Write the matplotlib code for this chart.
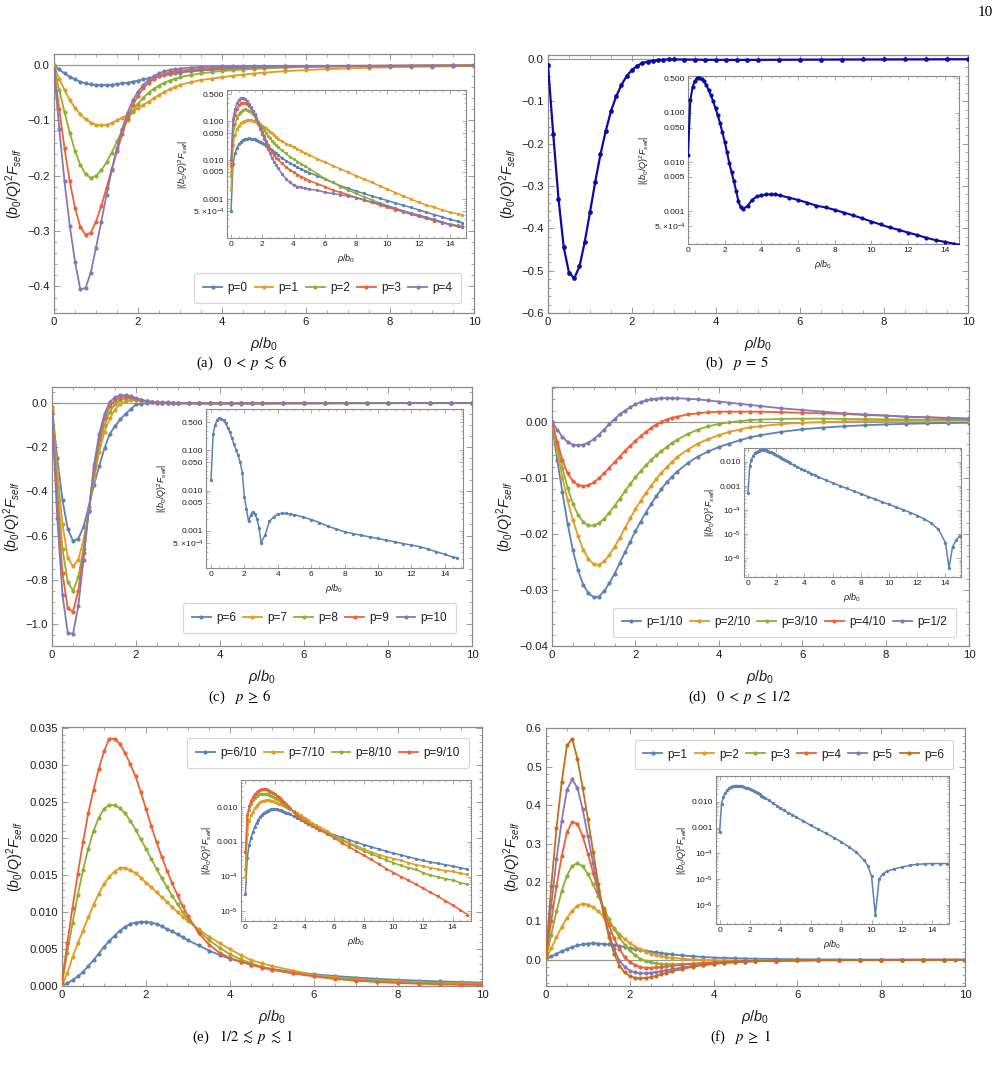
import numpy as np
import matplotlib
matplotlib.use('Agg')
import matplotlib.pyplot as plt
from matplotlib.ticker import (MultipleLocator, FixedLocator, FuncFormatter,
                               LogLocator, NullFormatter, FixedFormatter)

plt.rcParams['font.family'] = ['Liberation Sans', 'DejaVu Sans']
plt.rcParams['mathtext.fontset'] = 'custom'
plt.rcParams['mathtext.rm'] = 'Liberation Sans'
plt.rcParams['mathtext.it'] = 'Liberation Sans:italic'
plt.rcParams['mathtext.bf'] = 'Liberation Sans:bold'
plt.rcParams['mathtext.fallback'] = 'stixsans'

# ---------------------------------------------------------------- sampling grids (rho/b0)
RHO_HEAD = [0.0, 0.125, 0.25, 0.375, 0.5, 0.625, 0.75, 0.875, 1.0, 1.125, 1.25, 1.375,
            1.5, 1.625, 1.75, 1.875, 2.0, 2.125, 2.25, 2.375, 2.5, 2.625, 2.75, 2.875, 3.0]
RHO_MID = [3.25, 3.5, 3.75, 4.0, 4.25, 4.5, 4.75, 5.0, 5.5, 6.0, 6.5, 7.0, 7.5, 8.0,
           8.5, 9.0, 9.5, 10.0]
RHO_TAIL_A = [10.5, 11.0, 11.5, 12.0, 12.5, 13.0, 13.5, 14.0, 14.5, 14.75]
RHO_TAIL_D = [10.5, 11.0, 11.5, 12.0, 12.5, 13.0, 13.5, 14.0, 14.25, 14.5, 14.75, 15.0]
RHO_TAIL_E = [10.5, 11.0, 11.5, 12.0, 12.5, 13.0, 13.5, 14.0, 14.5, 15.0]
RHO_TAIL_F1 = [3.25, 3.5, 3.75, 4.0, 4.25, 4.5, 4.75, 5.0, 5.5, 6.0, 6.5, 7.0, 7.5, 8.0,
               8.5, 9.0, 9.5, 9.75, 10.0, 10.25, 10.5, 10.75, 11.0, 11.5, 12.0, 12.5,
               13.0, 13.5, 14.0, 14.5, 15.0]

RHO_SHORT = RHO_HEAD + RHO_MID
RHO_LONG_A = RHO_HEAD + RHO_MID + RHO_TAIL_A
RHO_LONG_D = RHO_HEAD + RHO_MID + RHO_TAIL_D
RHO_LONG_E = RHO_HEAD + RHO_MID + RHO_TAIL_E
RHO_LONG_F1 = RHO_HEAD + RHO_TAIL_F1

# ---------------------------------------------------------------- panel (a)  p = 0..4
A_LABELS = ['p=0', 'p=1', 'p=2', 'p=3', 'p=4']
A_P0 = [-0.0005, -0.008, -0.015, -0.021, -0.026, -0.030, -0.033, -0.035, -0.036, -0.0365,
        -0.036, -0.0355, -0.0345, -0.033, -0.032, -0.030, -0.028, -0.026, -0.024, -0.022,
        -0.020, -0.018, -0.0165, -0.015, -0.0135,
        -0.0115, -0.0098, -0.0085, -0.0075, -0.0066, -0.0059, -0.0053, -0.0048, -0.0040,
        -0.0033, -0.0027, -0.0022, -0.0019, -0.0016, -0.0014, -0.0012, -0.00105, -0.00092,
        -0.0008, -0.0007, -0.00061, -0.00053, -0.00046, -0.0004, -0.00035, -0.0003,
        -0.00027, -0.00025]
A_P1 = [-0.0017, -0.025, -0.045, -0.063, -0.077, -0.089, -0.098, -0.104, -0.108, -0.109,
        -0.108, -0.105, -0.100, -0.095, -0.090, -0.084, -0.078, -0.072, -0.066, -0.060,
        -0.054, -0.049, -0.044, -0.040, -0.036,
        -0.031, -0.027, -0.0245, -0.022, -0.0195, -0.0172, -0.0153, -0.0137, -0.0110,
        -0.0090, -0.0073, -0.0060, -0.0049, -0.0040, -0.0033, -0.0027, -0.0022, -0.0018,
        -0.00148, -0.00122, -0.0010, -0.00083, -0.0007, -0.00062, -0.00053, -0.00046,
        -0.00042, -0.0004]
A_P2 = [-0.004, -0.045, -0.085, -0.122, -0.155, -0.180, -0.197, -0.204, -0.200, -0.190,
        -0.176, -0.158, -0.138, -0.118, -0.099, -0.083, -0.070, -0.059, -0.050, -0.043,
        -0.037, -0.032, -0.028, -0.025, -0.022,
        -0.018, -0.015, -0.0125, -0.0108, -0.0093, -0.0081, -0.0070, -0.0061, -0.0045,
        -0.0034, -0.0027, -0.0021, -0.0017, -0.0014, -0.00115, -0.00096, -0.0008, -0.00068,
        -0.00058, -0.0005, -0.00043, -0.00037, -0.00032, -0.00028, -0.00025, -0.00023,
        -0.00021, -0.0002]
A_P3 = [-0.007, -0.080, -0.150, -0.210, -0.258, -0.292, -0.307, -0.303, -0.283, -0.255,
        -0.222, -0.188, -0.156, -0.125, -0.095, -0.073, -0.055, -0.042, -0.032, -0.025,
        -0.020, -0.016, -0.0135, -0.0118, -0.0105,
        -0.0083, -0.0068, -0.0057, -0.0049, -0.0043, -0.0038, -0.0034, -0.0030, -0.0025,
        -0.0021, -0.0017, -0.0015, -0.0013, -0.0011, -0.00095, -0.00082, -0.00071, -0.00062,
        -0.00054, -0.00047, -0.00041, -0.00036, -0.00032, -0.00028, -0.00025, -0.00022,
        -0.0002, -0.00019]
A_P4 = [-0.010, -0.115, -0.210, -0.290, -0.355, -0.405, -0.403, -0.375, -0.330, -0.283,
        -0.235, -0.190, -0.150, -0.115, -0.086, -0.064, -0.048, -0.036, -0.027, -0.020,
        -0.015, -0.0115, -0.0092, -0.0076, -0.0064,
        -0.0045, -0.0034, -0.0027, -0.0023, -0.0021, -0.0020, -0.0019, -0.0018, -0.0017,
        -0.0015, -0.0014, -0.0013, -0.0012, -0.0011, -0.00095, -0.00085, -0.00075, -0.00066,
        -0.00058, -0.0005, -0.00044, -0.00039, -0.00034, -0.0003, -0.00026, -0.00022,
        -0.0002, -0.00019]

# ---------------------------------------------------------------- panel (b)  p = 5
B_P5 = [-0.014, -0.178, -0.33, -0.445, -0.505, -0.518, -0.49, -0.432, -0.362, -0.29,
        -0.225, -0.17, -0.123, -0.088, -0.061, -0.040, -0.026, -0.016, -0.0095, -0.0062,
        -0.0041, -0.0026, -0.0016, -0.0012, -0.0011,
        -0.0013, -0.0017, -0.0020, -0.0021, -0.0022, -0.0022, -0.0022, -0.0021, -0.0019,
        -0.0017, -0.0015, -0.0013, -0.0012, -0.00107, -0.00094, -0.00083, -0.00072, -0.00062,
        -0.00054, -0.00047, -0.00042, -0.00037, -0.00033, -0.00029, -0.00026, -0.00024,
        -0.00022, -0.00021]

# ---------------------------------------------------------------- panel (c)  p = 6..10
C_LABELS = ['p=6', 'p=7', 'p=8', 'p=9', 'p=10']
C_P6 = [-0.018, -0.25, -0.44, -0.57, -0.625, -0.615, -0.56, -0.47, -0.37, -0.285,
        -0.205, -0.14, -0.105, -0.075, -0.05, -0.028, -0.0068, -0.0035, -0.0017, 0.0024,
        0.003, 0.0026, 0.002, 0.0012, -0.0005,
        -0.0008, -0.0017, -0.0022, -0.0026, -0.0027, -0.0027, -0.0026, -0.0025, -0.0022,
        -0.0019, -0.0016, -0.0013, -0.0011, -0.00094, -0.00085, -0.00077, -0.0007, -0.00064,
        -0.00058, -0.00053, -0.00048, -0.00044, -0.0004, -0.00035, -0.0003, -0.00026,
        -0.00022, -0.00021]
C_P7 = [-0.025, -0.31, -0.55, -0.70, -0.74, -0.71, -0.62, -0.49, -0.34, -0.22, -0.13,
        -0.07, -0.03, -0.005, 0.007, 0.011, 0.012, 0.010, 0.007, 0.004, 0.002, 0.0, -0.001,
        -0.0015, -0.0018,
        -0.002, -0.0021, -0.0022, -0.0022, -0.0022, -0.0021, -0.002, -0.0019, -0.0017,
        -0.0015, -0.0013, -0.0011, -0.001, -0.0009, -0.0008, -0.0007, -0.00065, -0.0006]
C_P8 = [-0.03, -0.38, -0.66, -0.81, -0.85, -0.79, -0.66, -0.49, -0.32, -0.19, -0.10,
        -0.04, -0.005, 0.012, 0.019, 0.020, 0.016, 0.012, 0.008, 0.005, 0.002, 0.0, -0.001,
        -0.0015, -0.0018,
        -0.002, -0.002, -0.0021, -0.0021, -0.0021, -0.002, -0.0019, -0.0018, -0.0016,
        -0.0014, -0.0012, -0.0011, -0.00095, -0.00085, -0.00075, -0.00067, -0.0006, -0.00055]
C_P9 = [-0.04, -0.45, -0.77, -0.93, -0.945, -0.85, -0.68, -0.49, -0.30, -0.165, -0.07,
        -0.015, 0.012, 0.024, 0.027, 0.025, 0.019, 0.013, 0.008, 0.004, 0.0015, 0.0, -0.001,
        -0.0015, -0.0017,
        -0.0019, -0.002, -0.002, -0.002, -0.002, -0.0019, -0.0018, -0.0017, -0.0015,
        -0.0013, -0.0012, -0.001, -0.0009, -0.0008, -0.0007, -0.00062, -0.00056, -0.0005]
C_P10 = [-0.05, -0.52, -0.87, -1.04, -1.045, -0.92, -0.71, -0.49, -0.28, -0.14, -0.05,
         0.005, 0.025, 0.034, 0.035, 0.030, 0.022, 0.014, 0.008, 0.004, 0.0015, 0.0, -0.001,
         -0.0015, -0.0018,
         -0.0019, -0.0019, -0.0019, -0.0019, -0.0018, -0.0018, -0.0017, -0.0016, -0.0014,
         -0.0012, -0.0011, -0.00095, -0.00085, -0.00075, -0.00065, -0.00058, -0.00052,
         -0.00047]

# ---------------------------------------------------------------- panel (d)  p = 1/10..1/2
D_LABELS = ['p=1/10', 'p=2/10', 'p=3/10', 'p=4/10', 'p=1/2']
D_P1 = [-0.0005, -0.0068, -0.0126, -0.0182, -0.0229, -0.0265, -0.0291, -0.0306, -0.0313,
        -0.0312, -0.0302, -0.0288, -0.0271, -0.0252, -0.0233, -0.0214, -0.0195, -0.0178,
        -0.0162, -0.0147, -0.0133, -0.0120, -0.0108, -0.0098, -0.0089,
        -0.0074, -0.0062, -0.0053, -0.0045, -0.0039, -0.0033, -0.0028, -0.0024, -0.0018,
        -0.00135, -0.00104, -0.0008, -0.00062, -0.00048, -0.00037, -0.00029, -0.00022,
        -0.000175,
        -0.000135, -0.000105, -8e-5, -6e-5, -4.3e-5, -2.9e-5, -1.6e-5, -4.5e-6, -4e-7,
        3e-6, 5.7e-6, 8.5e-6]
D_P2 = [0.0, -0.0054, -0.0100, -0.0140, -0.0175, -0.0204, -0.0228, -0.0245, -0.0254,
        -0.0255, -0.0249, -0.0238, -0.0223, -0.0207, -0.0190, -0.0172, -0.0156, -0.0141,
        -0.0127, -0.0114, -0.0102, -0.0091, -0.0081, -0.0072, -0.0063,
        -0.0050, -0.0039, -0.0031, -0.0024, -0.0018, -0.0014, -0.0010, -0.0008, -0.0004,
        -0.0002, -0.00005, 0.00005, 0.0001, 0.00015, 0.00017, 0.00018, 0.00018, 0.00018]
D_P3 = [0.0, -0.0042, -0.0083, -0.0118, -0.0146, -0.0166, -0.0179, -0.0185, -0.0185,
        -0.0181, -0.0173, -0.0162, -0.0150, -0.0137, -0.0124, -0.0111, -0.0099, -0.0088,
        -0.0078, -0.0068, -0.0060, -0.0052, -0.0045, -0.0038, -0.0032,
        -0.0022, -0.0014, -0.0008, -0.0004, -0.0001, 0.0001, 0.0003, 0.0004, 0.0005,
        0.00055, 0.00055, 0.0005, 0.00047, 0.00043, 0.0004, 0.00036, 0.00033, 0.0003]
D_P4 = [0.0, -0.0036, -0.0068, -0.0092, -0.0106, -0.0113, -0.0115, -0.0113, -0.0108,
        -0.0101, -0.0092, -0.0082, -0.0072, -0.0062, -0.0052, -0.0043, -0.0034, -0.0026,
        -0.0018, -0.0011, -0.0005, 0.0, 0.0004, 0.0007, 0.0009,
        0.0013, 0.0015, 0.0017, 0.0018, 0.0018, 0.0018, 0.0018, 0.0018, 0.0017, 0.0016,
        0.0015, 0.0014, 0.0012, 0.0011, 0.0009, 0.0008, 0.0006, 0.0005]
D_P5 = [0.0, -0.0014, -0.0027, -0.0036, -0.0041, -0.0042, -0.0041, -0.0037, -0.0031,
        -0.0023, -0.0014, -0.0004, 0.0005, 0.0013, 0.0020, 0.0026, 0.0031, 0.0035, 0.0038,
        0.0040, 0.0041, 0.0042, 0.0042, 0.0042, 0.0042,
        0.0041, 0.0040, 0.0038, 0.0036, 0.0034, 0.0032, 0.0030, 0.0028, 0.0024, 0.0021,
        0.0018, 0.0015, 0.0013, 0.0011, 0.0009, 0.0008, 0.0007, 0.0006]

# ---------------------------------------------------------------- panel (e)  p = 6/10..9/10
E_LABELS = ['p=6/10', 'p=7/10', 'p=8/10', 'p=9/10']
E_P6 = [3.2e-5, 0.00035, 0.0008, 0.0013, 0.0019, 0.0027, 0.0035, 0.0044, 0.0053, 0.0061,
        0.0068, 0.0075, 0.0080, 0.0084, 0.0086, 0.0087, 0.0087, 0.0086, 0.0084, 0.0081,
        0.0077, 0.0074, 0.0070, 0.0066, 0.0062,
        0.0055, 0.0048, 0.0042, 0.0037, 0.0033, 0.0029, 0.0026, 0.0023, 0.0019, 0.0016,
        0.00135, 0.00115, 0.00097, 0.00083, 0.00072, 0.00062, 0.00054, 0.00047,
        0.00042, 0.00037, 0.00033, 0.00029, 0.00026, 0.00024, 0.00022, 0.0002, 0.00018,
        0.00016]
E_P7 = [9.8e-5, 0.0017, 0.0039, 0.0058, 0.0075, 0.0093, 0.0110, 0.0125, 0.0138, 0.0148,
        0.0155, 0.0160, 0.0160, 0.0157, 0.0153, 0.0147, 0.0140, 0.0134, 0.0127, 0.0120,
        0.0114, 0.0107, 0.0100, 0.0094, 0.0088,
        0.0077, 0.0067, 0.0058, 0.0050, 0.0042, 0.0035, 0.0031, 0.0027, 0.0021, 0.0015,
        0.0012, 0.00095, 0.00077, 0.00062, 0.00051, 0.00043, 0.00037, 0.00033,
        0.00029, 0.00025, 0.00022, 0.0002, 0.00018, 0.00016, 0.000148, 0.00014, 0.000125,
        0.000115]
E_P8 = [0.00017, 0.0045, 0.0085, 0.0123, 0.0157, 0.0186, 0.0210, 0.0228, 0.0240, 0.0245,
        0.0245, 0.0241, 0.0234, 0.0224, 0.0212, 0.0199, 0.0186, 0.0172, 0.0159, 0.0146,
        0.0134, 0.0122, 0.0111, 0.0100, 0.0091,
        0.0075, 0.0062, 0.0052, 0.0043, 0.0036, 0.0031, 0.0026, 0.0022, 0.0018, 0.0014,
        0.0011, 0.00088, 0.00069, 0.00055, 0.00045, 0.00037, 0.0003, 0.00025,
        0.00021, 0.00018, 0.00016, 0.00013, 0.00011, 9.8e-5, 8.6e-5, 7.9e-5, 6.7e-5, 5.9e-5]
E_P9 = [0.0005, 0.0058, 0.0106, 0.0152, 0.0195, 0.0234, 0.0266, 0.0294, 0.0318, 0.0335,
        0.0335, 0.0328, 0.0316, 0.0301, 0.0284, 0.0263, 0.0240, 0.0217, 0.0195, 0.0175,
        0.0156, 0.0139, 0.0123, 0.0108, 0.0095,
        0.0072, 0.0056, 0.0045, 0.0038, 0.0033, 0.0029, 0.0025, 0.0022, 0.0017, 0.0013,
        0.00095, 0.00072, 0.00054, 0.00041, 0.00031, 0.00023, 0.00017, 0.00013,
        0.0001, 7.8e-5, 6e-5, 4.6e-5, 3.5e-5, 2.7e-5, 2e-5, 1.5e-5, 1.1e-5, 8e-6]

# ---------------------------------------------------------------- panel (f)  p = 1..6
F_LABELS = ['p=1', 'p=2', 'p=3', 'p=4', 'p=5', 'p=6']
F_P1 = [0.0007, 0.0085, 0.0155, 0.022, 0.028, 0.033, 0.037, 0.040, 0.042, 0.0425, 0.042,
        0.041, 0.0395, 0.0375, 0.0353, 0.033, 0.0305, 0.028, 0.0257, 0.0234, 0.0212, 0.0192,
        0.0173, 0.0156, 0.0140,
        0.0112, 0.0090, 0.0071, 0.0056, 0.0046, 0.0038, 0.0032, 0.0026, 0.0018, 0.0012,
        0.00085, 0.0006, 0.00041, 0.00028, 0.00018, 0.00011, 5.4e-5, 3.3e-5, 1.3e-5, -4e-7,
        -1e-5, -1.6e-5, -2e-5, -2.5e-5, -2.9e-5, -3.4e-5, -3.7e-5, -3.9e-5, -4e-5, -4e-5,
        -4e-5]
F_P2 = [0.001, 0.030, 0.058, 0.085, 0.108, 0.127, 0.140, 0.145, 0.143, 0.136, 0.125,
        0.111, 0.096, 0.081, 0.067, 0.054, 0.043, 0.034, 0.027, 0.021, 0.016, 0.012, 0.009,
        0.0068, 0.005,
        0.0025, 0.0008, -0.0004, -0.0012, -0.0017, -0.002, -0.0022, -0.0022, -0.0021,
        -0.0019, -0.0016, -0.0014, -0.0012, -0.001, -0.0008, -0.0007, -0.0006, -0.0005]
F_P3 = [0.003, 0.065, 0.125, 0.178, 0.218, 0.243, 0.250, 0.242, 0.222, 0.195, 0.165,
        0.135, 0.106, 0.080, 0.058, 0.039, 0.024, 0.012, 0.003, -0.003, -0.007, -0.0095,
        -0.011, -0.0115, -0.0115,
        -0.011, -0.0098, -0.0085, -0.0072, -0.006, -0.005, -0.0042, -0.0035, -0.0025,
        -0.0018, -0.0013, -0.001, -0.0008, -0.0006, -0.0005, -0.0004, -0.0003, -0.0003]
F_P4 = [0.006, 0.100, 0.190, 0.268, 0.330, 0.357, 0.352, 0.320, 0.275, 0.225, 0.175,
        0.130, 0.090, 0.055, 0.028, 0.007, -0.006, -0.014, -0.019, -0.021, -0.021, -0.020,
        -0.019, -0.0175, -0.016,
        -0.013, -0.0105, -0.0085, -0.0068, -0.0055, -0.0044, -0.0036, -0.003, -0.002,
        -0.0014, -0.001, -0.0007, -0.0005, -0.0004, -0.0003, -0.00025, -0.0002, -0.00015]
F_P5 = [0.010, 0.140, 0.260, 0.360, 0.440, 0.467, 0.445, 0.390, 0.320, 0.250, 0.180,
        0.120, 0.068, 0.027, -0.002, -0.018, -0.028, -0.033, -0.035, -0.035, -0.034, -0.032,
        -0.030, -0.027, -0.025,
        -0.020, -0.016, -0.0125, -0.0098, -0.0077, -0.006, -0.0047, -0.0037, -0.0023,
        -0.0015, -0.001, -0.0007, -0.0005, -0.0004, -0.0003, -0.0002, -0.00015, -0.0001]
F_P6 = [0.015, 0.190, 0.340, 0.460, 0.555, 0.572, 0.520, 0.445, 0.365, 0.280, 0.195,
        0.120, 0.060, 0.016, -0.015, -0.033, -0.042, -0.047, -0.048, -0.047, -0.045, -0.042,
        -0.038, -0.034, -0.030,
        -0.024, -0.018, -0.014, -0.011, -0.0085, -0.0066, -0.005, -0.0039, -0.0024,
        -0.0015, -0.001, -0.0007, -0.0005, -0.0003, -0.0002, -0.00015, -0.0001, -0.0001]

# ---------------------------------------------------------------- styling
COLORS = ['#5E81B5', '#E19C24', '#8FB032', '#EB6235', '#8778B3', '#C56E1A']
DARK_BLUE = '#0B0BA6'
FRAME = '#8a8a8a'
TXT = '#1e1e1e'
FIG_W, FIG_H = 1004, 1080

fig = plt.figure(figsize=(FIG_W / 100, FIG_H / 100), dpi=100)


def px_axes(x0, y0, x1, y1, **kw):
    return fig.add_axes([x0 / FIG_W, 1 - y1 / FIG_H, (x1 - x0) / FIG_W, (y1 - y0) / FIG_H], **kw)


def make_fmt(nd):
    def f(v, pos):
        s = f'{v:.{nd}f}'
        if float(s) == 0:
            s = f'{0:.{nd}f}'
        return s.replace('-', '\u2212')
    return FuncFormatter(f)


def style_main(ax, ylim, ymaj, ymin, nd):
    ax.set_xlim(0, 10)
    ax.set_ylim(*ylim)
    ax.xaxis.set_major_locator(MultipleLocator(2))
    ax.xaxis.set_minor_locator(MultipleLocator(0.5))
    ax.yaxis.set_major_locator(MultipleLocator(ymaj))
    ax.yaxis.set_minor_locator(MultipleLocator(ymin))
    ax.yaxis.set_major_formatter(make_fmt(nd))
    ax.tick_params(which='both', direction='in', top=True, right=True, colors=FRAME,
                   labelcolor=TXT, labelsize=8.2, pad=3)
    ax.tick_params(which='major', length=4, width=0.6)
    ax.tick_params(which='minor', length=2, width=0.5)
    for s in ax.spines.values():
        s.set_color(FRAME)
        s.set_linewidth(0.9)
    ax.set_xlabel(r'$\rho/b_0$', fontsize=10.5, color=TXT, labelpad=6)
    ax.set_ylabel(r'$(b_0/Q)^2F_{self}$', fontsize=10.2, color=TXT, labelpad=2)


LOG_TICKS_A = [5e-4, 1e-3, 5e-3, 1e-2, 5e-2, 0.1, 0.5]
LOG_LABELS_A = [r'$5.\!\times\!10^{-4}$', '0.001', '0.005', '0.010', '0.050', '0.100', '0.500']
LOG_TICKS_D = [1e-6, 1e-5, 1e-4, 1e-3, 1e-2]
LOG_LABELS_D = [r'$10^{-6}$', r'$10^{-5}$', r'$10^{-4}$', '0.001', '0.010']


def style_inset(ax, xlim, ylim, ticks, labels):
    ax.set_yscale('log')
    ax.set_xlim(*xlim)
    ax.set_ylim(*ylim)
    ax.set_facecolor('white')
    ax.xaxis.set_major_locator(MultipleLocator(2))
    ax.xaxis.set_minor_locator(MultipleLocator(0.5))
    ax.yaxis.set_major_locator(FixedLocator(ticks))
    ax.yaxis.set_major_formatter(FixedFormatter(labels))
    ax.yaxis.set_minor_locator(LogLocator(base=10, subs=np.arange(2, 10) * 1.0, numticks=60))
    ax.yaxis.set_minor_formatter(NullFormatter())
    ax.tick_params(which='both', direction='in', top=True, right=True, colors=FRAME,
                   labelcolor=TXT, labelsize=6, pad=2)
    ax.tick_params(which='major', length=3, width=0.5)
    ax.tick_params(which='minor', length=1.5, width=0.4)
    for s in ax.spines.values():
        s.set_color(FRAME)
        s.set_linewidth(0.8)
    ax.set_xlabel(r'$\rho/b_0$', fontsize=6.5, color=TXT, labelpad=3)
    ax.set_ylabel(r'$|(b_0/Q)^2F_{self}|$', fontsize=6.5, color=TXT, labelpad=2)


def draw(ax, x, y, color, label=None, ms=3.0, lw=1.3):
    ax.plot(x, y, '-o', color=color, ms=ms, lw=lw, mew=0, label=label, zorder=3)


def draw_abs(ax, x, y, color, ms=2.4, lw=1.1):
    ax.plot(x, np.abs(np.asarray(y)), '-o', color=color, ms=ms, lw=lw, mew=0, zorder=3)


def add_legend(ax, ncol, cx, cy, fs=8.5):
    leg = ax.legend(loc='center', bbox_to_anchor=(cx, cy), ncol=ncol, fontsize=fs,
                    frameon=True, fancybox=True, handlelength=1.6, columnspacing=0.6,
                    handletextpad=0.45, borderpad=0.75, framealpha=1.0)
    leg.get_frame().set_edgecolor('#d4d4d4')
    leg.get_frame().set_linewidth(0.8)
    for t in leg.get_texts():
        t.set_color(TXT)
    leg.set_zorder(10)
    return leg


def zero_line(ax):
    ax.axhline(0, color='#9a9a9a', lw=0.9, zorder=1)


# ---------------------------------------------------------------- (a)
axA = px_axes(54, 54, 474, 313)
zero_line(axA)
for ys, c, lab in zip([A_P0, A_P1, A_P2, A_P3, A_P4], COLORS, A_LABELS):
    draw(axA, RHO_LONG_A, ys, c, lab)
style_main(axA, (-0.448, 0.02), 0.1, 0.02, 1)
add_legend(axA, 5, 0.652, 0.0965)
insA = px_axes(227, 90, 466, 238, zorder=5)
for ys, c in zip([A_P0, A_P1, A_P2, A_P3, A_P4], COLORS):
    draw_abs(insA, RHO_LONG_A, ys, c)
style_inset(insA, (-0.26, 15.03), (1.0e-4, 0.645), LOG_TICKS_A, LOG_LABELS_A)

# ---------------------------------------------------------------- (b)
axB = px_axes(548, 55, 968, 313)
zero_line(axB)
draw(axB, RHO_LONG_A, B_P5, DARK_BLUE, ms=3.4, lw=1.6)
style_main(axB, (-0.6, 0.0094), 0.1, 0.02, 1)
insB = px_axes(688, 76, 959, 244, zorder=5)
draw_abs(insB, RHO_LONG_A, B_P5, DARK_BLUE, ms=3.0, lw=1.5)
style_inset(insB, (0, 14.78), (2.17e-4, 0.557), LOG_TICKS_A, LOG_LABELS_A)

# ---------------------------------------------------------------- (c)
axC = px_axes(52, 387, 472, 646)
zero_line(axC)
draw(axC, RHO_LONG_A, C_P6, COLORS[0], C_LABELS[0])
for ys, c, lab in zip([C_P7, C_P8, C_P9, C_P10], COLORS[1:], C_LABELS[1:]):
    draw(axC, RHO_SHORT, ys, c, lab)
style_main(axC, (-1.10, 0.072), 0.2, 0.05, 1)
add_legend(axC, 5, 0.637, 0.107)
insC = px_axes(206, 409, 463, 568, zorder=5)
draw_abs(insC, RHO_LONG_A, C_P6, COLORS[0])
style_inset(insC, (-0.3, 15.1), (1.18e-4, 1.07), LOG_TICKS_A, LOG_LABELS_A)

# ---------------------------------------------------------------- (d)
axD = px_axes(552, 387, 969, 646)
zero_line(axD)
draw(axD, RHO_LONG_D, D_P1, COLORS[0], D_LABELS[0])
for ys, c, lab in zip([D_P2, D_P3, D_P4, D_P5], COLORS[1:], D_LABELS[1:]):
    draw(axD, RHO_SHORT, ys, c, lab)
style_main(axD, (-0.04, 0.0062), 0.01, 0.002, 2)
add_legend(axD, 5, 0.557, 0.091)
insD = px_axes(744, 448, 961, 577, zorder=5)
draw_abs(insD, RHO_LONG_D, D_P1, COLORS[0])
style_inset(insD, (-0.28, 15.1), (1.7e-7, 0.038), LOG_TICKS_D, LOG_LABELS_D)

# ---------------------------------------------------------------- (e)
axE = px_axes(62, 727, 482, 986)
for ys, c, lab in zip([E_P6, E_P7, E_P8, E_P9], COLORS, E_LABELS):
    draw(axE, RHO_LONG_E, ys, c, lab)
style_main(axE, (0.0, 0.0351), 0.005, 0.001, 3)
add_legend(axE, 4, 0.633, 0.900)
insE = px_axes(241, 780, 471, 921, zorder=5)
for ys, c in zip([E_P6, E_P7, E_P8, E_P9], COLORS):
    draw_abs(insE, RHO_LONG_E, ys, c)
style_inset(insE, (-0.3, 15.25), (5.2e-6, 0.061), LOG_TICKS_D[1:], LOG_LABELS_D[1:])

# ---------------------------------------------------------------- (f)
axF = px_axes(546, 728, 965, 986)
zero_line(axF)
draw(axF, RHO_LONG_F1, F_P1, COLORS[0], F_LABELS[0])
for ys, c, lab in zip([F_P2, F_P3, F_P4, F_P5, F_P6], COLORS[1:], F_LABELS[1:]):
    draw(axF, RHO_SHORT, ys, c, lab)
style_main(axF, (-0.068, 0.6), 0.1, 0.02, 1)
add_legend(axF, 6, 0.591, 0.897)
insF = px_axes(716, 776, 949, 924, zorder=5)
draw_abs(insF, RHO_LONG_F1, F_P1, COLORS[0])
style_inset(insF, (-0.24, 15.1), (1.8e-7, 0.1), LOG_TICKS_D, LOG_LABELS_D)

# ---------------------------------------------------------------- captions
CAPTIONS = [(241, 363, r'(a)   $0\;<\;p\;\lesssim\;6$'), (737, 363, r'(b)   $p\;=\;5$'),
            (240, 697, r'(c)   $p\;\geq\;6$'), (740, 697, r'(d)   $0\;<\;p\;\leq\;1/2$'),
            (243, 1037, r'(e)   $1/2\;\lesssim\;p\;\lesssim\;1$'),
            (740, 1037, r'(f)   $p\;\geq\;1$')]
for cx, cy, txt in CAPTIONS:
    fig.text(cx / FIG_W, 1 - cy / FIG_H, txt, ha='center', va='center', fontsize=10.5,
             family=['Liberation Serif', 'DejaVu Serif'], math_fontfamily='stix', color='black')
fig.text(985 / FIG_W, 1 - 13 / FIG_H, '10', ha='center', va='center', fontsize=11,
         family=['Liberation Serif', 'DejaVu Serif'], color='black')

fig.savefig('out.png', dpi=100, facecolor='white')
